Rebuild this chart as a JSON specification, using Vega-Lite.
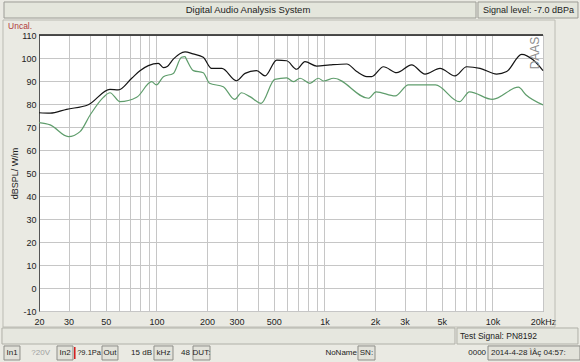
{
  "$schema": "https://vega.github.io/schema/vega-lite/v6.json",
  "width": 504,
  "height": 276,
  "autosize": {"type": "none"},
  "padding": {"left": 39, "top": 35, "right": 37, "bottom": 51},
  "background": "#eaeae3",
  "config": {
    "font": "Liberation Sans",
    "view": {"fill": "white", "stroke": "#8a8a8a"},
    "axis": {"labelFont": "Liberation Sans", "titleFont": "Liberation Sans", "labelOverlap": false}
  },
  "layer": [
    {
      "data": {"values": [{}]},
      "mark": {"type": "rect", "filled": false, "stroke": "#bcbcb4", "strokeWidth": 1},
      "encoding": {"x": {"datum": 12.21}, "x2": {"datum": 23580}, "y": {"datum": 116.52}, "y2": {"datum": -16.96}}
    },
    {
      "data": {"values": [{}]},
      "mark": {"type": "rect", "fill": "#e4e6dc", "stroke": "#9c9c96", "strokeWidth": 1},
      "encoding": {"x": {"datum": 12.38}, "x2": {"datum": 7985}, "y": {"datum": 124.35}, "y2": {"datum": 117.39}}
    },
    {
      "data": {"values": [{}]},
      "mark": {"type": "rect", "fill": "#e4e6dc", "stroke": "#9c9c96", "strokeWidth": 1},
      "encoding": {"x": {"datum": 8205}, "x2": {"datum": 32300}, "y": {"datum": 124.35}, "y2": {"datum": 117.39}}
    },
    {
      "data": {"values": [{}]},
      "mark": {"type": "rect", "fill": "#e6e7df", "stroke": "#b0b0a8", "strokeWidth": 1},
      "encoding": {"x": {"datum": 12.04}, "x2": {"datum": 5986}, "y": {"datum": -17.39}, "y2": {"datum": -24.35}}
    },
    {
      "data": {"values": [{}]},
      "mark": {"type": "rect", "fill": "#e6e7df", "stroke": "#b0b0a8", "strokeWidth": 1},
      "encoding": {"x": {"datum": 6150}, "x2": {"datum": 32300}, "y": {"datum": -17.39}, "y2": {"datum": -24.35}}
    },
    {
      "data": {"values": [{}]},
      "mark": {"type": "rect", "fill": "#e2e2da", "stroke": "#8e8e88", "strokeWidth": 1},
      "encoding": {"x": {"datum": 12.38}, "x2": {"datum": 15.41}, "y": {"datum": -25.2}, "y2": {"datum": -31.3}}
    },
    {
      "data": {"values": [{}]},
      "mark": {"type": "rect", "fill": "#e2e2da", "stroke": "#8e8e88", "strokeWidth": 1},
      "encoding": {"x": {"datum": 25.6}, "x2": {"datum": 31.87}, "y": {"datum": -25.2}, "y2": {"datum": -31.3}}
    },
    {
      "data": {"values": [{}]},
      "mark": {"type": "rect", "fill": "#d42020"},
      "encoding": {"x": {"datum": 32.3}, "x2": {"datum": 33.0}, "y": {"datum": -25.65}, "y2": {"datum": -30.87}}
    },
    {
      "data": {"values": [{}]},
      "mark": {"type": "rect", "fill": "#e2e2da", "stroke": "#8e8e88", "strokeWidth": 1},
      "encoding": {"x": {"datum": 47.43}, "x2": {"datum": 59.03}, "y": {"datum": -25.2}, "y2": {"datum": -31.3}}
    },
    {
      "data": {"values": [{}]},
      "mark": {"type": "rect", "fill": "#e2e2da", "stroke": "#8e8e88", "strokeWidth": 1},
      "encoding": {"x": {"datum": 96.7}, "x2": {"datum": 125.5}, "y": {"datum": -25.2}, "y2": {"datum": -31.3}}
    },
    {
      "data": {"values": [{}]},
      "mark": {"type": "rect", "fill": "#e2e2da", "stroke": "#8e8e88", "strokeWidth": 1},
      "encoding": {"x": {"datum": 165.1}, "x2": {"datum": 208.4}, "y": {"datum": -25.2}, "y2": {"datum": -31.3}}
    },
    {
      "data": {"values": [{}]},
      "mark": {"type": "rect", "fill": "#e2e2da", "stroke": "#8e8e88", "strokeWidth": 1},
      "encoding": {"x": {"datum": 1584}, "x2": {"datum": 2000}, "y": {"datum": -25.2}, "y2": {"datum": -31.3}}
    },
    {
      "data": {"values": [{}]},
      "mark": {"type": "rect", "fill": "#e2e2da", "stroke": "#8e8e88", "strokeWidth": 1},
      "encoding": {"x": {"datum": 9413}, "x2": {"datum": 33200}, "y": {"datum": -25.2}, "y2": {"datum": -31.3}}
    },
    {
      "data": {"values": [
        {"f": 20, "db": 71.9, "s": "green"}, {"f": 23.3, "db": 70.9, "s": "green"}, {"f": 29.9, "db": 65.8, "s": "green"}, {"f": 35.1, "db": 68.0, "s": "green"}, {"f": 40.3, "db": 75.2, "s": "green"}, {"f": 48.3, "db": 82.9, "s": "green"}, {"f": 52.9, "db": 84.9, "s": "green"}, {"f": 60.7, "db": 81.0, "s": "green"}, {"f": 76.3, "db": 82.9, "s": "green"}, {"f": 93.7, "db": 89.7, "s": "green"}, {"f": 100, "db": 88.3, "s": "green"}, {"f": 110, "db": 91.9, "s": "green"}, {"f": 126, "db": 93.3, "s": "green"}, {"f": 141, "db": 100.3, "s": "green"}, {"f": 148, "db": 100.6, "s": "green"}, {"f": 151, "db": 99.4, "s": "green"}, {"f": 166, "db": 94.5, "s": "green"}, {"f": 190, "db": 93.6, "s": "green"}, {"f": 207, "db": 89.0, "s": "green"}, {"f": 250, "db": 87.5, "s": "green"}, {"f": 292, "db": 82.0, "s": "green"}, {"f": 321, "db": 84.9, "s": "green"}, {"f": 360, "db": 83.2, "s": "green"}, {"f": 420, "db": 80.3, "s": "green"}, {"f": 506, "db": 90.7, "s": "green"}, {"f": 596, "db": 91.4, "s": "green"}, {"f": 653, "db": 89.7, "s": "green"}, {"f": 716, "db": 91.2, "s": "green"}, {"f": 820, "db": 89.0, "s": "green"}, {"f": 919, "db": 91.2, "s": "green"}, {"f": 990, "db": 90.0, "s": "green"}, {"f": 1136, "db": 91.2, "s": "green"}, {"f": 1828, "db": 82.5, "s": "green"}, {"f": 2030, "db": 85.3, "s": "green"}, {"f": 2640, "db": 83.5, "s": "green"}, {"f": 3160, "db": 88.3, "s": "green"}, {"f": 4580, "db": 88.3, "s": "green"}, {"f": 6360, "db": 81.0, "s": "green"}, {"f": 7300, "db": 85.3, "s": "green"}, {"f": 10010, "db": 82.0, "s": "green"}, {"f": 14270, "db": 87.3, "s": "green"}, {"f": 15870, "db": 83.9, "s": "green"}, {"f": 20000, "db": 79.6, "s": "green"},
        {"f": 20, "db": 76.2, "s": "black"}, {"f": 23.3, "db": 76.0, "s": "black"}, {"f": 29.2, "db": 77.7, "s": "black"}, {"f": 39.3, "db": 79.7, "s": "black"}, {"f": 52.9, "db": 86.4, "s": "black"}, {"f": 59.3, "db": 86.1, "s": "black"}, {"f": 71.3, "db": 91.2, "s": "black"}, {"f": 79.8, "db": 94.5, "s": "black"}, {"f": 89.5, "db": 96.7, "s": "black"}, {"f": 102.6, "db": 97.7, "s": "black"}, {"f": 110, "db": 95.8, "s": "black"}, {"f": 116, "db": 96.3, "s": "black"}, {"f": 126, "db": 99.5, "s": "black"}, {"f": 148, "db": 102.7, "s": "black"}, {"f": 165, "db": 101.8, "s": "black"}, {"f": 190, "db": 100.3, "s": "black"}, {"f": 213, "db": 95.5, "s": "black"}, {"f": 245, "db": 95.5, "s": "black"}, {"f": 300, "db": 90.1, "s": "black"}, {"f": 337, "db": 93.3, "s": "black"}, {"f": 395, "db": 94.5, "s": "black"}, {"f": 443, "db": 92.2, "s": "black"}, {"f": 520, "db": 99.1, "s": "black"}, {"f": 596, "db": 98.8, "s": "black"}, {"f": 684, "db": 95.1, "s": "black"}, {"f": 766, "db": 98.4, "s": "black"}, {"f": 899, "db": 96.5, "s": "black"}, {"f": 1079, "db": 97.0, "s": "black"}, {"f": 1358, "db": 97.4, "s": "black"}, {"f": 1557, "db": 94.1, "s": "black"}, {"f": 1787, "db": 91.9, "s": "black"}, {"f": 1911, "db": 91.9, "s": "black"}, {"f": 2245, "db": 96.2, "s": "black"}, {"f": 2693, "db": 93.6, "s": "black"}, {"f": 3305, "db": 97.0, "s": "black"}, {"f": 3970, "db": 93.0, "s": "black"}, {"f": 4878, "db": 95.5, "s": "black"}, {"f": 5985, "db": 92.2, "s": "black"}, {"f": 7030, "db": 96.2, "s": "black"}, {"f": 8440, "db": 95.5, "s": "black"}, {"f": 10600, "db": 93.0, "s": "black"}, {"f": 12160, "db": 94.1, "s": "black"}, {"f": 14930, "db": 101.6, "s": "black"}, {"f": 17520, "db": 99.1, "s": "black"}, {"f": 20000, "db": 94.5, "s": "black"}
      ]},
      "mark": {"type": "line", "interpolate": "monotone", "strokeWidth": 1.2},
      "encoding": {
        "x": {
          "field": "f", "type": "quantitative",
          "scale": {"type": "log", "domain": [20, 20000], "nice": false},
          "axis": {
            "values": [20, 30, 40, 50, 60, 70, 80, 90, 100, 200, 300, 400, 500, 600, 700, 800, 900, 1000, 2000, 3000, 4000, 5000, 6000, 7000, 8000, 9000, 10000, 20000],
            "tickCount": 60,
            "labelExpr": "datum.value==20000?'20kHz':(datum.value==1000||datum.value==2000||datum.value==3000||datum.value==5000||datum.value==10000)?(datum.value/1000)+'k':(datum.value==20||datum.value==30||datum.value==50||datum.value==100||datum.value==200||datum.value==300||datum.value==500)?''+datum.value:''",
            "labelOverlap": false, "labelFlush": false,
            "labelFontSize": 9, "labelColor": "#222222", "labelPadding": 6,
            "ticks": false, "domain": false,
            "grid": true, "gridColor": "#c6c6c6", "gridWidth": 1,
            "title": "Distance Speaker - Mic.: 99.4cm, dBSPL normalised on 1 Meter, Delay: 2.9ms",
            "titleFontSize": 8.5, "titleFontWeight": "normal", "titleColor": "#222222",
            "titleAlign": "left", "titleBaseline": "middle", "titleX": -36, "titleY": 25, "titleAnchor": "start"
          }
        },
        "y": {
          "field": "db", "type": "quantitative",
          "scale": {"domain": [-10, 110], "nice": false},
          "axis": {
            "values": [-10, 0, 10, 20, 30, 40, 50, 60, 70, 80, 90, 100, 110],
            "tickCount": 30,
            "labelExpr": "'' + datum.value",
            "labelOverlap": false, "labelFlush": false, "labelBound": false,
            "labelFontSize": 9, "labelColor": "#222222", "labelPadding": 3,
            "ticks": false, "domain": true, "domainColor": "#555555",
            "grid": true, "gridColor": "#c6c6c6", "gridWidth": 1,
            "title": "dBSPL/ W/m",
            "titleFontSize": 9, "titleFontWeight": "normal", "titleColor": "#222222",
            "titleAngle": 270, "titleAlign": "center", "titleBaseline": "middle", "titleX": -25, "titleY": 138
          }
        },
        "color": {
          "field": "s", "type": "nominal",
          "scale": {"domain": ["green", "black"], "range": ["#5f9d6c", "#141414"]},
          "legend": null
        },
        "order": {"field": "f", "type": "quantitative"}
      }
    },
    {
      "data": {"values": [{}]},
      "mark": {"type": "rule", "color": "#1a1a1a", "strokeWidth": 1.5},
      "encoding": {"y": {"datum": 110}}
    },
    {
      "data": {"values": [{}]},
      "mark": {"type": "text", "text": "Digital Audio Analysis System", "align": "center", "baseline": "middle", "fontSize": 9.5, "color": "#222222"},
      "encoding": {"x": {"datum": 350.8}, "y": {"datum": 120.87}}
    },
    {
      "data": {"values": [{}]},
      "mark": {"type": "text", "text": "Signal level: -7.0 dBPa", "align": "left", "baseline": "middle", "fontSize": 9, "color": "#222222"},
      "encoding": {"x": {"datum": 8790}, "y": {"datum": 120.87}}
    },
    {
      "data": {"values": [{}]},
      "mark": {"type": "text", "text": "Uncal.", "align": "left", "baseline": "middle", "fontSize": 8.5, "color": "#b03a3a"},
      "encoding": {"x": {"datum": 13.08}, "y": {"datum": 113.9}}
    },
    {
      "data": {"values": [{}]},
      "mark": {"type": "text", "text": "DAAS", "align": "center", "baseline": "middle", "fontSize": 12, "angle": 270, "color": "#8c8c8c"},
      "encoding": {"x": {"datum": 17920}, "y": {"datum": 102.17}}
    },
    {
      "data": {"values": [{}]},
      "mark": {"type": "text", "text": "Test Signal: PN8192", "align": "left", "baseline": "middle", "fontSize": 8.5, "color": "#222222"},
      "encoding": {"x": {"datum": 6411}, "y": {"datum": -20.87}}
    },
    {
      "data": {"values": [{}]},
      "mark": {"type": "text", "text": "In1", "align": "center", "baseline": "middle", "fontSize": 8, "color": "#222222"},
      "encoding": {"x": {"datum": 13.82}, "y": {"datum": -28.26}}
    },
    {
      "data": {"values": [{}]},
      "mark": {"type": "text", "text": "?20V", "align": "right", "baseline": "middle", "fontSize": 8, "color": "#a0a0a0"},
      "encoding": {"x": {"datum": 23.26}, "y": {"datum": -28.26}}
    },
    {
      "data": {"values": [{}]},
      "mark": {"type": "text", "text": "In2", "align": "center", "baseline": "middle", "fontSize": 8, "color": "#222222"},
      "encoding": {"x": {"datum": 28.57}, "y": {"datum": -28.26}}
    },
    {
      "data": {"values": [{}]},
      "mark": {"type": "text", "text": "?9.1Pa", "align": "right", "baseline": "middle", "fontSize": 7.5, "color": "#222222"},
      "encoding": {"x": {"datum": 46.77}, "y": {"datum": -28.26}}
    },
    {
      "data": {"values": [{}]},
      "mark": {"type": "text", "text": "Out", "align": "center", "baseline": "middle", "fontSize": 8, "color": "#222222"},
      "encoding": {"x": {"datum": 52.9}, "y": {"datum": -28.26}}
    },
    {
      "data": {"values": [{}]},
      "mark": {"type": "text", "text": "15 dB", "align": "right", "baseline": "middle", "fontSize": 8, "color": "#222222"},
      "encoding": {"x": {"datum": 94.1}, "y": {"datum": -28.26}}
    },
    {
      "data": {"values": [{}]},
      "mark": {"type": "text", "text": "kHz", "align": "center", "baseline": "middle", "fontSize": 8, "color": "#222222"},
      "encoding": {"x": {"datum": 110.2}, "y": {"datum": -28.26}}
    },
    {
      "data": {"values": [{}]},
      "mark": {"type": "text", "text": "48", "align": "right", "baseline": "middle", "fontSize": 8, "color": "#222222"},
      "encoding": {"x": {"datum": 158.4}, "y": {"datum": -28.26}}
    },
    {
      "data": {"values": [{}]},
      "mark": {"type": "text", "text": "DUT:", "align": "center", "baseline": "middle", "fontSize": 8, "color": "#222222"},
      "encoding": {"x": {"datum": 185.4}, "y": {"datum": -28.26}}
    },
    {
      "data": {"values": [{}]},
      "mark": {"type": "text", "text": "NoName", "align": "right", "baseline": "middle", "fontSize": 8, "color": "#222222"},
      "encoding": {"x": {"datum": 1562}, "y": {"datum": -28.26}}
    },
    {
      "data": {"values": [{}]},
      "mark": {"type": "text", "text": "SN:", "align": "center", "baseline": "middle", "fontSize": 8, "color": "#222222"},
      "encoding": {"x": {"datum": 1779}, "y": {"datum": -28.26}}
    },
    {
      "data": {"values": [{}]},
      "mark": {"type": "text", "text": "0000", "align": "right", "baseline": "middle", "fontSize": 8, "color": "#222222"},
      "encoding": {"x": {"datum": 9161}, "y": {"datum": -28.26}}
    },
    {
      "data": {"values": [{}]},
      "mark": {"type": "text", "text": "2014-4-28 ÌÂç 04:57:", "align": "left", "baseline": "middle", "fontSize": 8, "color": "#222222"},
      "encoding": {"x": {"datum": 9802}, "y": {"datum": -28.26}}
    }
  ]
}
